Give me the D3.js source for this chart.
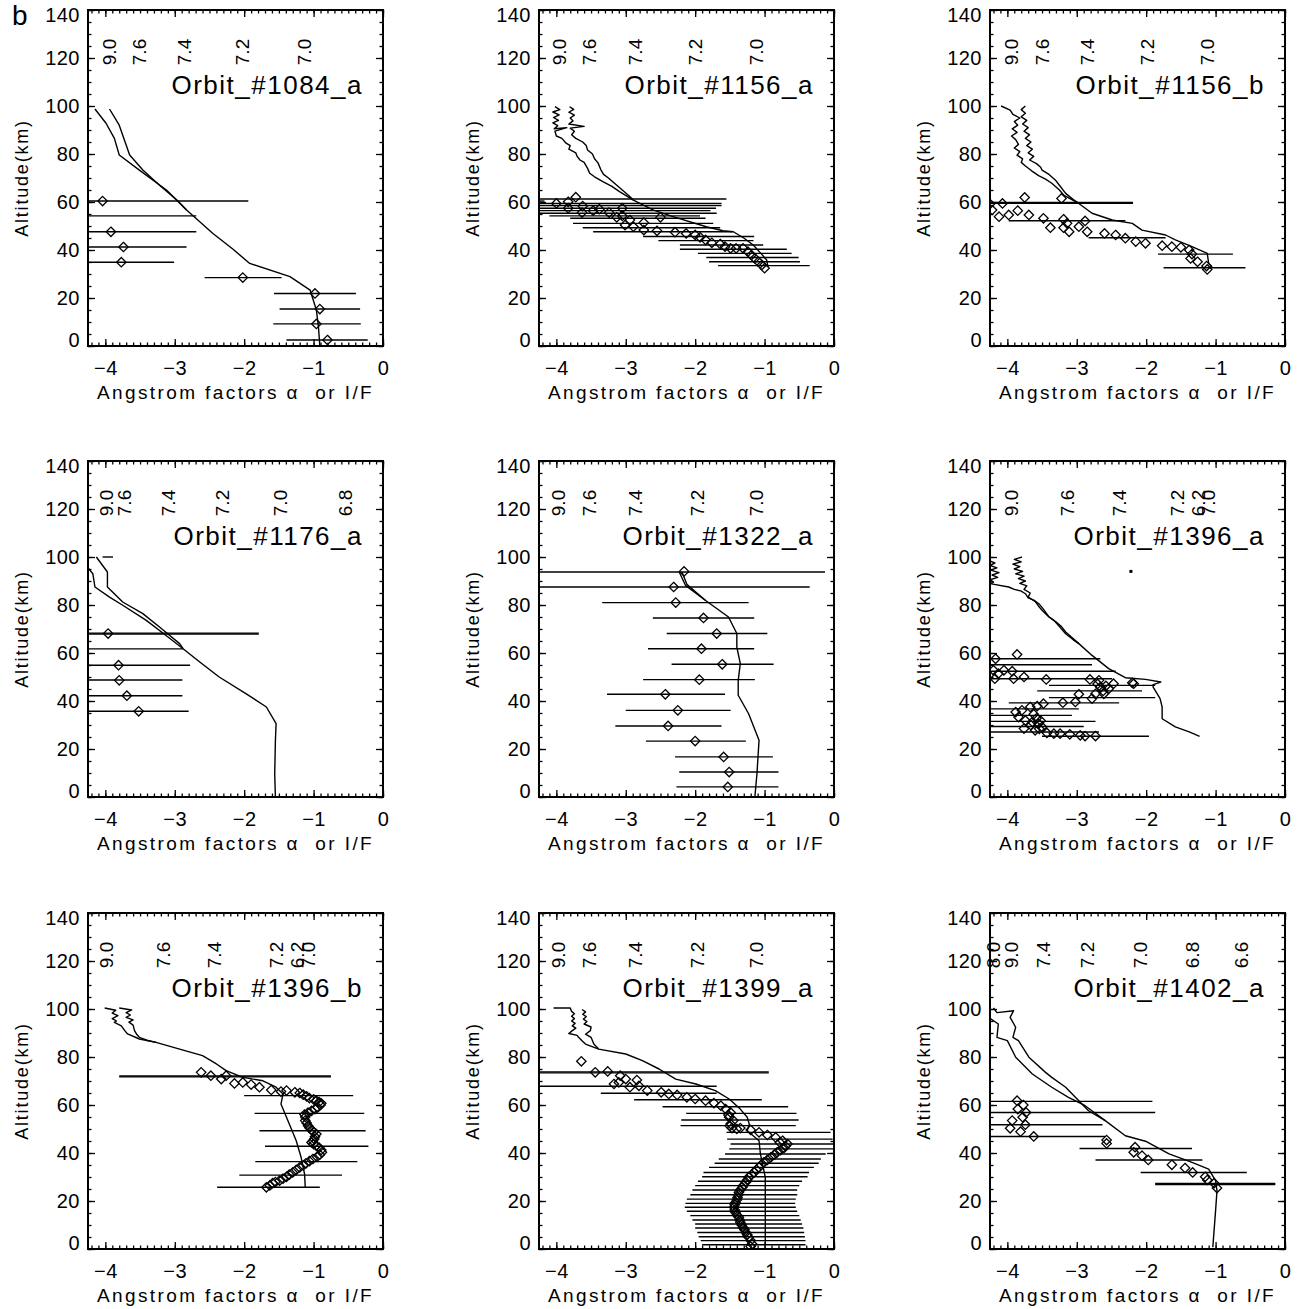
<!DOCTYPE html>
<html>
<head>
<meta charset="utf-8">
<script src="https://cdn.jsdelivr.net/npm/d3@7"></script>
<style>
body { margin: 0; background: #fff; }
svg text { font-family: "Liberation Sans", Arial, sans-serif; fill: #000; }
</style>
</head>
<body>
<div id="fig"></div>
<script>
// ---------------- data ----------------
// profiles: [alpha, altitude km]; points: [alpha, altitude]; bars: [altitude, lo, hi]

var orbitNames = ["Orbit_#1084_a", "Orbit_#1156_a", "Orbit_#1156_b",
                  "Orbit_#1176_a", "Orbit_#1322_a", "Orbit_#1396_a",
                  "Orbit_#1396_b", "Orbit_#1399_a", "Orbit_#1402_a"];

// panel 1 : 1084_a
var p1TopText = ["9.0", "7.6", "7.4", "7.2", "7.0"];
var p1TopPos = [-3.94, -3.52, -2.86, -2.03, -1.13];
var p1LineA = [[-4.15,98.75],[-3.99,92.8],[-3.87,86.5],[-3.80,79.6],[-3.51,73.3],[-3.12,65],[-2.83,56.7],[-2.45,46.9],[-2.16,40.3],[-1.92,34.4],[-1.34,28.9],[-1.05,23.3],[-0.96,15],[-0.93,8],[-0.91,0]];
var p1LineB = [[-3.94,98.75],[-3.80,92],[-3.65,79.6],[-3.46,73.3],[-3.22,67],[-2.97,60.8],[-2.83,56.7]];
var p1Pts = [[-4.04,60.4],[-3.92,47.6],[-3.74,41.25],[-3.77,34.9],[-2.02,28.5],[-0.98,21.9],[-0.91,15.4],[-0.96,9.2],[-0.80,2.5]];
var p1Bars = [[60.4,-6.1,-1.94],[54.2,-6.3,-2.69],[47.6,-5.2,-2.69],[41.25,-4.7,-2.83],[34.9,-4.6,-3.01],[28.5,-2.57,-1.46],[21.9,-1.57,-0.39],[15.4,-1.49,-0.33],[9.2,-1.58,-0.32],[2.5,-1.39,-0.22]];

// panel 2 : 1156_a
var p2TopText = ["9.0", "7.6", "7.4", "7.2", "7.0"];
var p2TopPos = [-3.96, -3.53, -2.86, -2.0, -1.12];
var p2LineA = [[-4.02,99.7],[-3.95,98.5],[-4.05,97.5],[-3.96,96.3],[-4.04,95.2],[-3.97,94],[-4.05,93],[-3.98,91.8],[-4.03,90.5],[-3.85,91],[-4.02,89.5],[-4.0,87.5],[-3.92,86.5],[-3.86,84.5],[-3.8,83.5],[-3.82,82],[-3.72,80.5],[-3.7,79],[-3.66,77.5],[-3.6,76.5],[-3.55,74],[-3.52,72],[-3.45,70.5],[-3.33,68.5],[-3.2,66.5],[-3.09,64.3],[-2.89,60.8],[-2.61,56.7],[-2.32,53.9],[-1.84,49.7],[-1.6,48],[-1.45,47.6],[-1.3,45],[-1.16,42],[-1.05,38.5],[-0.97,35.8],[-0.95,33]];
var p2LineB = [[-3.81,99.7],[-3.75,98.6],[-3.82,97.4],[-3.74,96.2],[-3.8,95],[-3.76,93.8],[-3.82,92.5],[-3.6,91.5],[-3.8,90.8],[-3.74,89.5],[-3.78,88],[-3.72,86.5],[-3.62,85],[-3.57,83.5],[-3.55,81.7],[-3.48,80],[-3.45,78],[-3.4,76.3],[-3.36,73.5],[-3.32,71.5],[-3.25,70],[-3.15,67.5],[-3.05,65],[-2.95,62.5],[-2.89,60.8]];
var p2Pts = [[-4.0,59.4],[-3.83,60.1],[-3.83,57.4],[-3.72,62],[-3.62,58.3],[-3.63,55.6],[-3.47,56.4],[-3.38,57],[-3.24,55.6],[-3.13,53.6],[-3.05,57.4],[-3.05,54.2],[-3.01,50.4],[-2.94,52.5],[-2.89,49.7],[-2.74,51.4],[-2.74,48.3],[-2.55,48],[-2.5,53.6],[-2.29,47.4],[-2.13,46.9],[-2.0,46.3],[-1.93,45.3],[-1.85,44.2],[-1.76,43],[-1.64,42.5],[-1.57,41.4],[-1.49,40.7],[-1.41,40.7],[-1.31,40.7],[-1.24,39.3],[-1.19,37.9],[-1.14,36.5],[-1.09,35.1],[-1.04,33.75],[-1.0,32.4]];
var p2Bars = [[61.25,-4.5,-1.55],[60.4,-4.5,-4.17],[59.4,-4.5,-1.62],[58.5,-4.5,-1.62],[57.4,-4.5,-1.70],[56.4,-4.5,-1.78],[55.3,-4.5,-1.69],[54.2,-4.10,-1.93],[53.2,-3.80,-1.85],[51.1,-3.76,-1.74],[49.3,-3.62,-1.64],[47.6,-3.47,-1.46],[45.6,-2.75,-1.15],[43.9,-2.53,-1.16],[42.1,-2.22,-1.02],[40.3,-2.22,-0.68],[38.6,-1.96,-0.61],[36.9,-1.84,-0.51],[35.1,-1.80,-0.49],[33.5,-1.67,-0.35]];

// panel 3 : 1156_b
var p3TopText = ["9.0", "7.6", "7.4", "7.2", "7.0"];
var p3TopPos = [-3.94, -3.5, -2.85, -1.99, -1.12];
var p3LineA = [[-4.09,100],[-3.96,98.3],[-3.92,96.5],[-3.82,95],[-3.9,93.5],[-3.85,92],[-3.93,90.5],[-3.86,89],[-3.94,87.5],[-3.88,86],[-3.84,84],[-3.9,82.5],[-3.82,81],[-3.86,79.5],[-3.78,78],[-3.8,76.5],[-3.74,75],[-3.65,73],[-3.55,71],[-3.45,69.5],[-3.36,67.8],[-3.25,65],[-3.19,62.9],[-2.97,59.4],[-2.78,55.3],[-2.49,52.5],[-2.2,51.1],[-2.06,48.3],[-1.72,46.25],[-1.58,44.2],[-1.34,41.4],[-1.12,38.6],[-1.1,34.4],[-1.05,33]];
var p3LineB = [[-3.74,100],[-3.8,98.5],[-3.74,97],[-3.8,95.5],[-3.72,94],[-3.78,92.5],[-3.7,91],[-3.76,89.5],[-3.68,88],[-3.74,86.5],[-3.66,85],[-3.72,83.5],[-3.64,82],[-3.7,80.5],[-3.62,79],[-3.68,77.5],[-3.58,76],[-3.52,74.5],[-3.5,73.3],[-3.4,71.5],[-3.31,69.2],[-3.25,67],[-3.16,63.6],[-3.05,61],[-2.97,59.4]];
var p3Pts = [[-4.25,59.2],[-4.22,56.7],[-4.07,59.4],[-4.12,53.9],[-3.98,54.6],[-3.85,56.4],[-3.75,61.9],[-3.69,54.6],[-3.48,53.2],[-3.38,49.3],[-3.22,61.5],[-3.19,52.8],[-3.19,49.3],[-3.14,51.1],[-3.11,47.6],[-2.97,49.7],[-2.88,52.1],[-2.85,47.6],[-2.6,46.9],[-2.44,46.25],[-2.30,44.9],[-2.15,43.5],[-2.01,42.8],[-1.77,41.8],[-1.63,41.4],[-1.5,41.1],[-1.38,40],[-1.34,38.3],[-1.36,36.5],[-1.26,35.1],[-1.13,33.3],[-1.12,31.9]];
var p3Bars = [[59.8,-4.5,-2.19],[59.5,-4.5,-2.19],[52.2,-3.98,-2.30],[45.1,-2.83,-1.72],[38.3,-1.83,-0.75],[32.6,-1.75,-0.57]];

// panel 4 : 1176_a
var p4TopText = ["9.0", "7.6", "7.4", "7.2", "7.0", "6.8"];
var p4TopPos = [-3.99, -3.73, -3.1, -2.32, -1.48, -0.54];
var p4LineA = [[-4.26,95.8],[-4.18,93],[-4.15,87.5],[-3.94,83.3],[-3.75,79.9],[-3.41,73.6],[-3.13,67.4],[-2.88,61.8],[-2.64,56.25],[-2.36,50],[-1.97,43],[-1.68,37.5],[-1.54,30.6],[-1.55,23.6],[-1.56,9.7],[-1.55,0]];
var p4LineB = [[-4.13,100],[-3.97,93.75],[-3.97,87.5],[-3.75,81.25],[-3.46,76.4],[-3.22,70.8],[-2.93,63.9],[-2.88,61.8]];
var p4Pts = [[-3.96,68.1],[-3.81,54.9],[-3.80,48.6],[-3.69,42.2],[-3.52,35.7]];
var p4Bars = [[100,-4.04,-3.89],[68.3,-4.5,-1.79],[67.9,-4.5,-1.79],[61.7,-4.5,-2.88],[54.9,-4.5,-2.78],[48.75,-4.5,-2.89],[42.2,-4.5,-2.89],[35.7,-4.5,-2.8]];

// panel 5 : 1322_a
var p5TopText = ["9.0", "7.6", "7.4", "7.2", "7.0"];
var p5TopPos = [-3.98, -3.53, -2.86, -1.97, -1.12];
var p5LineA = [[-2.23,93.75],[-2.14,88.2],[-1.85,81.9],[-1.52,75],[-1.40,68.1],[-1.40,62.5],[-1.35,55.6],[-1.38,48.6],[-1.38,42.4],[-1.23,34.7],[-1.08,23.6],[-1.11,9.7],[-1.14,0]];
var p5LineB = [[-2.19,93.75],[-2.12,88.6],[-1.85,81.9]];
var p5Pts = [[-2.16,94],[-2.31,87.5],[-2.28,81],[-1.88,74.6],[-1.69,68.1],[-1.91,61.8],[-1.61,55.3],[-1.94,48.9],[-2.43,42.8],[-2.25,36.1],[-2.39,29.6],[-2.0,23.3],[-1.59,16.7],[-1.51,10.4],[-1.53,4.2]];
var p5Bars = [[93.75,-4.5,-0.13],[87.5,-4.5,-0.35],[81,-3.34,-1.23],[74.6,-2.61,-1.15],[68.1,-2.41,-0.96],[61.8,-2.68,-1.15],[55.3,-2.34,-0.87],[48.9,-2.75,-1.14],[42.8,-3.27,-1.57],[36.1,-3.0,-1.49],[29.6,-3.15,-1.62],[23.3,-2.71,-1.27],[16.7,-2.29,-0.88],[10.4,-2.23,-0.80],[4.2,-2.27,-0.80]];

// panel 6 : 1396_a
var p6TopText = ["9.0", "7.6", "7.4", "7.2", "6.2", "7.0"];
var p6TopPos = [-3.94, -3.14, -2.39, -1.55, -1.25, -1.10];
var p6LineA = [[-4.27,98.6],[-4.18,97.5],[-4.25,96.5],[-4.15,95.5],[-4.24,94.5],[-4.12,93.5],[-4.22,92.5],[-4.14,91.5],[-4.25,90.5],[-4.2,89.5],[-4.25,88.9],[-3.98,87.5],[-3.9,86.5],[-3.8,85.8],[-3.74,84.7],[-3.7,83],[-3.62,82],[-3.55,80.6],[-3.5,79],[-3.45,77],[-3.4,75],[-3.3,73],[-3.22,71],[-3.16,68.75],[-2.97,63.9],[-2.78,59],[-2.54,53.5],[-2.3,49.7],[-2.01,49],[-1.79,47.9],[-1.9,46.8],[-1.9,45.8],[-1.84,43],[-1.8,41],[-1.77,37.5],[-1.77,32.6],[-1.58,29.2],[-1.38,27.1],[-1.23,25.3]];
var p6LineB = [[-3.79,100],[-3.9,99],[-3.8,98],[-3.92,97],[-3.82,96],[-3.9,95],[-3.78,94],[-3.88,93],[-3.76,92],[-3.84,91],[-3.74,90],[-3.82,89],[-3.72,88],[-3.76,86.5],[-3.67,85],[-3.7,83.3],[-3.6,81.5],[-3.55,79.5],[-3.5,77.8],[-3.42,75.5],[-3.33,73.6],[-3.25,71],[-3.16,68],[-3.05,65.5],[-2.97,63.9]];
var p6Pts = [[-4.17,57.6],[-3.86,59.4],[-4.2,52.8],[-4.18,49.3],[-4.13,51.4],[-4.05,52.8],[-3.93,52.4],[-3.91,49.3],[-3.76,50],[-3.44,49],[-2.81,49],[-2.68,48.6],[-2.66,45.8],[-2.73,43],[-2.78,41],[-2.61,43],[-2.54,45.1],[-2.47,47.2],[-2.20,47.6],[-2.18,47.2],[-2.97,42.8],[-3.02,39.6],[-3.2,39.3],[-3.48,38.9],[-3.57,37.9],[-3.67,37.5],[-3.79,36.1],[-3.88,35.4],[-3.84,33.3],[-3.74,31.9],[-3.64,31.25],[-3.55,30.6],[-3.5,29.2],[-3.6,27.8],[-3.76,28.5],[-3.43,26.7],[-3.33,26.4],[-3.24,26.4],[-3.10,26.1],[-2.95,25.7],[-2.88,25.4],[-2.73,25.4],[-3.62,34.5],[-3.58,32.8],[-3.52,31.8],[-3.66,29.9],[-3.54,28.4],[-2.62,44.2],[-2.58,46.3],[-2.7,47.1]];
var p6Bars = [[57.6,-4.5,-2.66],[55.1,-4.5,-2.78],[52.4,-4.5,-2.44],[49.3,-4.5,-2.49],[46.5,-3.40,-1.87],[44.2,-3.57,-2.06],[41.4,-3.40,-1.87],[39.2,-3.98,-2.39],[36.7,-4.5,-2.97],[34,-4.5,-3.07],[31.5,-4.5,-2.73],[29.4,-4.5,-2.90],[27.1,-4.5,-2.68],[25.3,-3.50,-1.96]];
var p6Dots = [[-2.22,94]];

// panel 7 : 1396_b
var p7TopText = ["9.0", "7.6", "7.4", "7.2", "6.2", "7.0"];
var p7TopPos = [-3.99, -3.17, -2.43, -1.54, -1.23, -1.08];
var p7LineA = [[-4.01,100.4],[-3.85,99.5],[-3.9,98.3],[-3.82,97.2],[-3.9,96],[-3.84,95],[-3.87,94.4],[-3.77,93],[-3.72,91],[-3.68,89.6],[-3.51,87.5],[-3.27,86.1],[-2.93,83.3],[-2.6,80.6],[-2.4,77.1],[-2.26,74.3],[-2.02,71.5],[-1.73,70.1],[-1.54,67.4],[-1.44,64.6],[-1.47,60.4],[-1.35,52.1],[-1.25,45.1],[-1.18,38.2],[-1.13,31.25],[-1.12,25.7]];
var p7LineB = [[-3.8,100.4],[-3.62,99.6],[-3.7,98.5],[-3.64,97.5],[-3.7,96.5],[-3.6,95.5],[-3.66,94.5],[-3.6,93.3],[-3.58,91],[-3.55,89.5],[-3.51,88.2],[-3.4,87],[-3.27,86.1]];
var p7Pts = [[-2.62,73.6],[-2.48,72.2],[-2.33,70.8],[-2.26,72.2],[-2.14,69],[-2.02,69.4],[-1.90,68.5],[-1.78,67.4],[-1.61,66.25],[-1.47,65.6],[-1.39,66],[-1.27,65.3],[-1.15,64.3],[-1.06,62.9],[-0.96,61.8],[-0.89,60.7],[-0.94,59],[-1.03,57.6],[-1.13,56],[-1.12,53.5],[-1.08,51.4],[-1.03,49.6],[-0.96,47.9],[-0.99,45.8],[-1.03,44.4],[-0.96,43],[-0.89,41.25],[-0.91,39.3],[-1.01,37.5],[-1.11,35.7],[-1.20,34],[-1.30,31.9],[-1.39,30.1],[-1.49,28.5],[-1.59,27.4],[-1.68,25.7],
	[-1.2,65],[-1.1,63.6],[-1.0,62.3],[-0.92,61.2],[-0.9,60],[-0.98,58.3],[-1.08,56.8],[-1.12,55],[-1.1,52.5],[-1.06,50.5],[-1.0,48.8],[-0.98,46.8],[-1.01,45],[-1.0,43.7],[-0.92,42.2],[-0.88,40.3],[-0.95,38.4],[-1.06,36.6],[-1.15,34.8],[-1.25,33],[-1.35,31],[-1.44,29.3],[-1.55,27.9],[-1.63,26.5]];
var p7Bars = [[72.1,-3.80,-0.75],[71.7,-3.80,-0.75],[63.9,-2.0,-0.43],[56.5,-1.85,-0.27],[49.3,-1.78,-0.25],[42.8,-1.70,-0.21],[36.4,-1.84,-0.37],[30.8,-2.07,-0.59],[25.7,-2.39,-0.91]];

// panel 8 : 1399_a
var p8TopText = ["9.0", "7.6", "7.4", "7.2", "7.0"];
var p8TopPos = [-3.98, -3.53, -2.86, -1.97, -1.12];
var p8LineA = [[-4.04,100.4],[-3.8,100.4],[-3.78,99],[-3.74,98],[-3.78,97],[-3.74,96],[-3.78,95],[-3.73,94],[-3.77,93],[-3.72,92],[-3.77,91],[-3.82,89.8],[-3.7,89],[-3.68,88.2],[-3.62,86.5],[-3.58,85.4],[-3.39,83.3],[-3.0,81.25],[-2.76,78.5],[-2.52,75],[-2.28,70.8],[-1.99,68.75],[-1.71,66],[-1.51,62.5],[-1.35,58.3],[-1.25,54.9],[-1.22,52],[-1.25,49.3],[-1.08,45.1],[-1.06,39.6],[-0.99,29.9],[-0.99,10.4],[-0.99,2]];
var p8LineB = [[-3.63,99.8],[-3.58,98.8],[-3.62,97.8],[-3.57,96.8],[-3.61,95.8],[-3.56,94.8],[-3.6,93.75],[-3.5,92.5],[-3.51,91],[-3.58,89.5],[-3.5,88.2],[-3.46,85.4],[-3.39,83.3]];
var p8Pts = [[-3.64,78.2],[-3.44,73.6],[-3.26,74],[-3.08,72.2],[-3.17,68.75],[-3.1,69.4],[-3.0,70.8],[-2.94,67.4],[-2.84,70.4],[-2.81,68],[-2.69,66],[-2.49,65.3],[-2.38,64.6],[-2.26,64.2],[-2.12,63.2],[-2.0,62.5],[-1.85,61.8],[-1.73,60.8],[-1.63,59.7],[-1.56,58.3],[-1.49,56.9],[-1.51,54.9],[-1.49,52.1],[-1.47,50.4],[-1.35,50.4],[-1.2,49.6],[-1.08,48.6],[-0.96,47.5],[-0.84,46.5],[-0.74,45.1],[-0.67,43.75],[-0.72,42.1],[-0.82,40.3],[-0.91,38.2],[-1.01,36.1],[-1.08,34],[-1.15,31.9],[-1.23,29.9],[-1.27,27.8],[-1.32,25.7],[-1.37,23.6],[-1.39,21.5],[-1.42,19.4],[-1.44,17.4],[-1.42,15.3],[-1.37,13.2],[-1.35,11.1],[-1.31,9],[-1.27,6.9],[-1.23,4.9],[-1.18,2.1],
	[-1.52,55.8],[-1.45,53.5],[-1.5,51.2],[-1.4,50],[-0.78,44.4],[-0.7,42.9],[-0.77,41.2],[-0.86,39.3],[-0.96,37.1],[-1.05,35],[-1.12,33],[-1.19,30.9],[-1.25,28.8],[-1.3,26.7],[-1.35,24.6],[-1.38,22.5],[-1.4,20.4],[-1.43,18.4],[-1.43,16.3],[-1.4,14.2],[-1.36,12.1],[-1.33,10],[-1.29,8],[-1.25,5.9],[-1.2,3.5],[-1.2,1]];
var p8Bars = [[73.8,-4.5,-0.94],[73.4,-4.5,-0.94],[67.8,-4.5,-1.69],[64.9,-3.36,-1.69],[62.2,-2.88,-1.04],[59.3,-2.47,-0.66],[56.5,-2.13,-0.54],[53.75,-2.20,-0.51],[51.4,-2.21,-0.55],[48.6,-1.55,-0.05],[45.8,-1.54,-0.02],[43.75,-1.49,0.02],[41.7,-1.51,0.02],[39.6,-1.57,-0.12],[37.5,-1.66,-0.19],[35.7,-1.72,-0.22],[34,-1.80,-0.29],[31.9,-1.88,-0.36],[30.1,-1.90,-0.38],[28.2,-1.96,-0.46],[26.4,-2.0,-0.50],[24.6,-2.04,-0.53],[22.6,-2.07,-0.53],[20.8,-2.12,-0.55],[19,-2.14,-0.56],[17.4,-2.15,-0.55],[15.7,-2.12,-0.53],[13.9,-2.07,-0.50],[12.1,-2.04,-0.48],[10.4,-2.0,-0.46],[8.75,-2.0,-0.44],[6.9,-1.97,-0.43],[5.1,-1.95,-0.42],[3.5,-1.92,-0.41],[1.8,-1.90,-0.41]];

// panel 9 : 1402_a
var p9TopText = ["8.0", "9.0", "7.4", "7.2", "7.0", "6.8", "6.6"];
var p9TopPos = [-4.2, -3.94, -3.48, -2.85, -2.09, -1.34, -0.63];
var p9LineA = [[-4.26,96.25],[-4.13,93.75],[-4.15,88.2],[-4.0,86.8],[-3.88,79.9],[-3.64,72.9],[-3.36,67.4],[-3.12,63.2],[-2.88,59.7],[-2.59,53.5],[-2.30,47.2],[-2.01,44.9],[-1.67,39.6],[-1.34,36.1],[-1.1,33.3],[-1.0,28.5],[-0.98,24.3],[-1.0,16],[-1.04,0.7]];
var p9LineB = [[-4.2,100.4],[-4.15,98.5],[-3.91,99.3],[-3.96,96.5],[-3.88,92.4],[-3.92,88.2],[-3.84,86.8],[-3.69,79.9],[-3.45,73.6],[-3.36,71.5],[-3.16,67.4],[-3.02,63.2],[-2.83,57.6],[-2.59,53.5]];
var p9Pts = [[-3.86,61.8],[-3.77,60],[-3.85,58.3],[-3.73,56.9],[-3.78,54.9],[-3.93,53.5],[-3.74,51.8],[-3.96,50.3],[-3.81,48.9],[-3.62,46.9],[-2.57,45.4],[-2.57,44],[-2.16,42.4],[-2.18,40.3],[-2.06,38.9],[-1.97,37.1],[-1.63,35.1],[-1.44,33.75],[-1.33,31.9],[-1.15,30.1],[-1.12,28.75],[-1.02,27.4],[-0.98,25.4]];
var p9Bars = [[61.5,-4.5,-1.91],[56.9,-4.5,-1.87],[51.8,-4.5,-2.63],[46.9,-4.5,-2.59],[41.9,-2.96,-1.34],[37.1,-2.73,-1.19],[31.9,-2.08,-0.55],[27.3,-1.87,-0.14],[26.9,-1.87,-0.14]];

// axis ticks
var xMajor = [-4, -3, -2, -1, 0];
var xMinor = d3.range(-42, 1).map(function (k) { return k / 10; });
var yMajor = [0, 20, 40, 60, 80, 100, 120, 140];
var yMinor = d3.range(0, 141, 5);

var panels = [
	{ lines: [p1LineA, p1LineB], pts: p1Pts, bars: p1Bars, topText: p1TopText, topPos: p1TopPos, dots: [] },
	{ lines: [p2LineA, p2LineB], pts: p2Pts, bars: p2Bars, topText: p2TopText, topPos: p2TopPos, dots: [] },
	{ lines: [p3LineA, p3LineB], pts: p3Pts, bars: p3Bars, topText: p3TopText, topPos: p3TopPos, dots: [] },
	{ lines: [p4LineA, p4LineB], pts: p4Pts, bars: p4Bars, topText: p4TopText, topPos: p4TopPos, dots: [] },
	{ lines: [p5LineA, p5LineB], pts: p5Pts, bars: p5Bars, topText: p5TopText, topPos: p5TopPos, dots: [] },
	{ lines: [p6LineA, p6LineB], pts: p6Pts, bars: p6Bars, topText: p6TopText, topPos: p6TopPos, dots: p6Dots },
	{ lines: [p7LineA, p7LineB], pts: p7Pts, bars: p7Bars, topText: p7TopText, topPos: p7TopPos, dots: [] },
	{ lines: [p8LineA, p8LineB], pts: p8Pts, bars: p8Bars, topText: p8TopText, topPos: p8TopPos, dots: [] },
	{ lines: [p9LineA, p9LineB], pts: p9Pts, bars: p9Bars, topText: p9TopText, topPos: p9TopPos, dots: [] }
];

// ---------------- layout ----------------
var colLeft = [88, 539, 990],
	rowTop = [10, 461, 913],
	pw = 295,
	ph = 336;

var svg = d3.select("#fig").append("svg")
	.attr("width", 1301)
	.attr("height", 1309);

var x = d3.scaleLinear().domain([-4.25, 0]).range([0, pw]);
var y = d3.scaleLinear().domain([0, 140]).range([ph, 0]);

var line = d3.line()
	.x(function (d) { return x(d[0]); })
	.y(function (d) { return y(d[1]); });

// figure letter
svg.append("text")
	.attr("x", 12)
	.attr("y", 25)
	.attr("font-size", 28)
	.text("b");

panels.forEach(function (p, i) {
	var g = svg.append("g")
		.attr("transform", "translate(" + colLeft[i % 3] + "," + rowTop[Math.floor(i / 3)] + ")");

	g.append("clipPath").attr("id", "clip" + i)
		.append("rect").attr("width", pw).attr("height", ph);

	var plot = g.append("g").attr("clip-path", "url(#clip" + i + ")");

	// error bars
	plot.selectAll(".bar")
		.data(p.bars)
		.enter().append("line")
		.attr("class", "bar")
		.attr("x1", function (d) { return x(d[1]); })
		.attr("x2", function (d) { return x(d[2]); })
		.attr("y1", function (d) { return y(d[0]); })
		.attr("y2", function (d) { return y(d[0]); })
		.attr("stroke", "#000")
		.attr("stroke-width", 1.4);

	// profiles
	plot.selectAll(".prof")
		.data(p.lines)
		.enter().append("path")
		.attr("class", "prof")
		.attr("d", line)
		.attr("fill", "none")
		.attr("stroke", "#000")
		.attr("stroke-width", 1.4)
		.attr("stroke-linejoin", "round");

	// diamonds
	plot.selectAll(".pt")
		.data(p.pts)
		.enter().append("path")
		.attr("class", "pt")
		.attr("transform", function (d) { return "translate(" + x(d[0]) + "," + y(d[1]) + ")"; })
		.attr("d", "M0,-4.7L4.7,0L0,4.7L-4.7,0Z")
		.attr("fill", "none")
		.attr("stroke", "#000")
		.attr("stroke-width", 1.3);

	plot.selectAll(".dot")
		.data(p.dots)
		.enter().append("rect")
		.attr("x", function (d) { return x(d[0]) - 1.5; })
		.attr("y", function (d) { return y(d[1]) - 1.5; })
		.attr("width", 3).attr("height", 3);

	// ticks, all pointing inward
	function ticks(axis, vals, size, tf) {
		return axis.tickValues(vals).tickSize(size).tickFormat(tf === undefined ? "" : tf);
	}
	g.append("g").attr("transform", "translate(0," + ph + ")")
		.call(ticks(d3.axisBottom(x), xMinor, -3.5));
	g.append("g").attr("transform", "translate(0," + ph + ")")
		.call(ticks(d3.axisBottom(x), xMajor, -7, d3.format("d")).tickPadding(15));
	g.append("g").call(ticks(d3.axisTop(x), xMinor, -3.5));
	g.append("g").call(ticks(d3.axisTop(x), xMajor, -7));
	g.append("g").call(ticks(d3.axisLeft(y), yMinor, -3.5));
	var axLM = g.append("g").call(ticks(d3.axisLeft(y), yMajor, -7, d3.format("d")).tickPadding(8));
	g.append("g").attr("transform", "translate(" + pw + ",0)").call(ticks(d3.axisRight(y), yMinor, -3.5));
	g.append("g").attr("transform", "translate(" + pw + ",0)").call(ticks(d3.axisRight(y), yMajor, -7));

	g.selectAll(".domain").remove();
	g.selectAll(".tick line").attr("stroke", "#000").attr("stroke-width", 1.3);
	g.selectAll(".tick text")
		.attr("font-family", "Liberation Sans, Arial, sans-serif")
		.attr("font-size", 20)
		.attr("letter-spacing", 0.5)
		.attr("fill", "#000");
	// end labels sit inside the frame as in the original
	axLM.selectAll(".tick text")
		.attr("dy", function (d) { return d === 0 ? "0.02em" : d === 140 ? "0.57em" : "0.32em"; });

	// frame
	g.append("rect")
		.attr("width", pw).attr("height", ph)
		.attr("fill", "none")
		.attr("stroke", "#000")
		.attr("stroke-width", 2);

	// rotated labels near the top
	g.selectAll(".toplab")
		.data(p.topText)
		.enter().append("text")
		.attr("class", "toplab")
		.attr("transform", function (d, k) {
			return "translate(" + x(p.topPos[k]) + "," + y(117) + ") rotate(-90)";
		})
		.attr("dy", "0.36em")
		.attr("font-size", 19)
		.text(function (d) { return d; });

	// orbit title
	g.append("text")
		.attr("x", pw - 20)
		.attr("y", 84)
		.attr("text-anchor", "end")
		.attr("font-size", 26)
		.attr("letter-spacing", 1.5)
		.text(orbitNames[i]);

	// axis titles
	g.append("text")
		.attr("x", pw / 2)
		.attr("y", ph + 53)
		.attr("text-anchor", "middle")
		.attr("font-size", 19)
		.attr("letter-spacing", 2.4)
		.style("white-space", "pre")
		.text("Angstrom factors \u03b1  or I/F");

	g.append("text")
		.attr("transform", "translate(-66," + (ph / 2) + ") rotate(-90)")
		.attr("text-anchor", "middle")
		.attr("dy", "0.35em")
		.attr("font-size", 18)
		.attr("letter-spacing", 1.8)
		.text("Altitude(km)");
});
</script>
</body>
</html>
